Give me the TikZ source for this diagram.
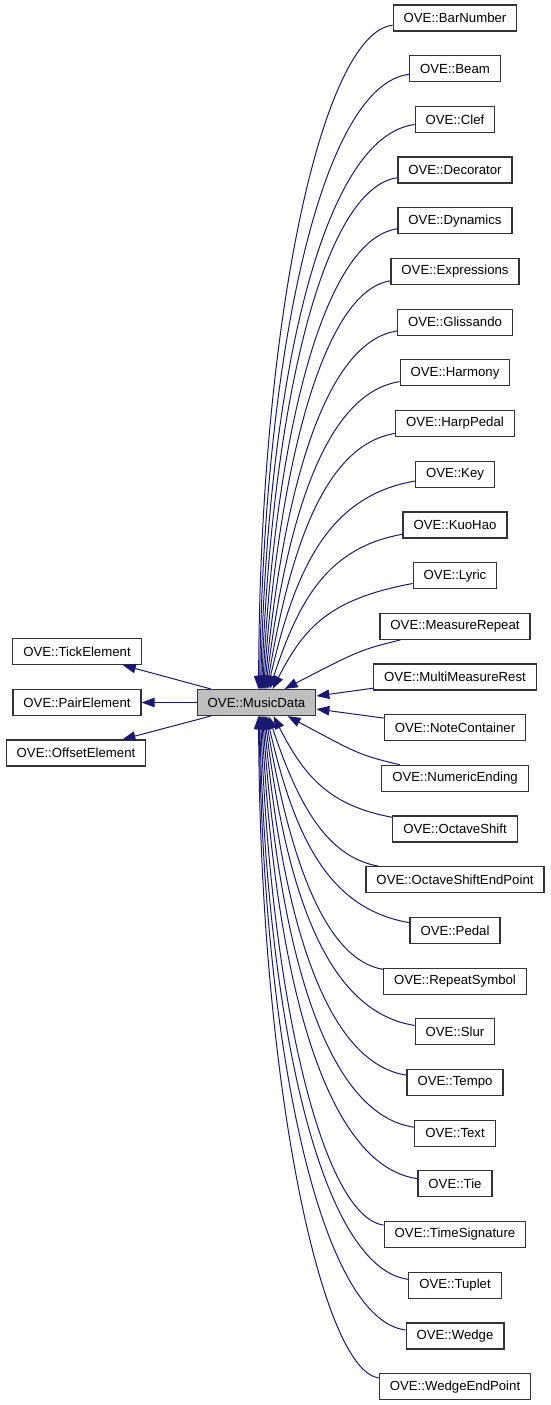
\documentclass[tikz,border=0pt]{standalone}
\usepackage{fontspec}
\setmainfont{Liberation Sans}
\usetikzlibrary{arrows.meta,calc}
\definecolor{edgeblue}{RGB}{25,25,112}
\tikzstyle{classbox}=[draw=black!80,line width=1.2pt,fill=white,minimum height=26pt,inner xsep=10.5pt,inner ysep=0pt,font=\fontsize{13.2}{15}\selectfont]
\tikzstyle{basebox}=[classbox,fill=black!25]
\tikzstyle{inherit}=[draw=edgeblue,line width=1pt,-{Triangle[length=13pt,width=9.5pt]}]
\newcommand{\rowy}[1]{18+50.69*(#1-1)} % centre of row #1 in the right column
\newcommand{\upedge}[3]{ % node, row, offset from the left end of MusicData
\pgfmathsetmacro{\yc}{\rowy{#2}}
\pgfmathsetmacro{\endx}{196+#3}
\pgfmathsetmacro{\dd}{690-\yc}
\pgfmathsetmacro{\cax}{400-0.55*(400-\endx)}
\pgfmathsetmacro{\cay}{\yc+15+10*(1-\dd/700)}
\pgfmathsetmacro{\cbx}{\endx+0.3*(400-\endx)*(1-\dd/700)}
\pgfmathsetmacro{\cby}{690-0.55*\dd}
\draw[inherit] (#1) .. controls (\cax,\cay) and (\cbx,\cby) .. ([xshift=#3pt]musicdata.north west);
}
\newcommand{\downedge}[3]{
\pgfmathsetmacro{\yc}{\rowy{#2}}
\pgfmathsetmacro{\endx}{196+#3}
\pgfmathsetmacro{\dd}{\yc-715}
\pgfmathsetmacro{\cax}{400-0.55*(400-\endx)}
\pgfmathsetmacro{\cay}{\yc-15-10*(1-\dd/700)}
\pgfmathsetmacro{\cbx}{\endx+0.3*(400-\endx)*(1-\dd/700)}
\pgfmathsetmacro{\cby}{715+0.55*\dd}
\draw[inherit] (#1) .. controls (\cax,\cay) and (\cbx,\cby) .. ([xshift=#3pt]musicdata.south west);
}
\begin{document}
\begin{tikzpicture}[x=1pt,y=-1pt]
\useasboundingbox (0,0) rectangle (551,1405);

% base classes
\node[basebox] (musicdata) at (256.5,702.5) {OVE::MusicData};
\node[classbox] (tickelement) at (77,651.5) {OVE::TickElement};
\node[classbox] (pairelement) at (77,702.5) {OVE::PairElement};
\node[classbox] (offsetelement) at (76,753) {OVE::OffsetElement};

\draw[inherit] ([xshift=14pt]musicdata.north west) -- ([xshift=-19pt]tickelement.south east);
\draw[inherit] (musicdata) -- (pairelement);
\draw[inherit] ([xshift=14pt]musicdata.south west) -- ([xshift=-24pt]offsetelement.north east);

% derived classes
\foreach \name/\txt [count=\i] in {barnumber/BarNumber,beam/Beam,clef/Clef,decorator/Decorator,
  dynamics/Dynamics,expressions/Expressions,glissando/Glissando,harmony/Harmony,harppedal/HarpPedal,
  key/Key,kuohao/KuoHao,lyric/Lyric,measurerepeat/MeasureRepeat,multimeasurerest/MultiMeasureRest,
  notecontainer/NoteContainer,numericending/NumericEnding,octaveshift/OctaveShift,
  octaveshiftendpoint/OctaveShiftEndPoint,pedal/Pedal,repeatsymbol/RepeatSymbol,slur/Slur,
  tempo/Tempo,text/Text,tie/Tie,timesignature/TimeSignature,tuplet/Tuplet,wedge/Wedge,
  wedgeendpoint/WedgeEndPoint}
  \node[classbox] (\name) at (455,{\rowy{\i}}) {OVE::\txt};

\foreach \name/\off [count=\i] in {barnumber/62,beam/63,clef/64,decorator/65,dynamics/66,
  expressions/67,glissando/68,harmony/69,harppedal/70,key/71,kuohao/73,lyric/76}
  {\upedge{\name}{\i}{\off}}

% the four nearest ones are almost straight
\draw[inherit] (measurerepeat) .. controls (360,650) .. ([xshift=88pt]musicdata.north west);
\draw[inherit] (multimeasurerest) -- ([yshift=6.5pt]musicdata.east);
\draw[inherit] (notecontainer) -- ([yshift=-6.5pt]musicdata.east);
\draw[inherit] (numericending) .. controls (360,755) .. ([xshift=91pt]musicdata.south west);

\foreach \name/\off [count=\i from 17] in {octaveshift/77,octaveshiftendpoint/72,
  pedal/70,repeatsymbol/69,slur/68,tempo/67,text/66,tie/65,timesignature/64,tuplet/63,wedge/62.5,
  wedgeendpoint/62}
  {\downedge{\name}{\i}{\off}}
\end{tikzpicture}
\end{document}
